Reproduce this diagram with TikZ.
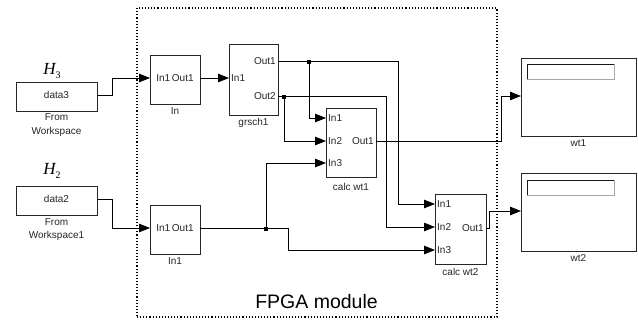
\documentclass[tikz,border=0pt]{standalone}
\usepackage{fontspec}
\setmainfont{Liberation Sans}
\newfontfamily\seriffont{Liberation Serif}
\usetikzlibrary{arrows.meta}
\tikzset{
  blk/.style={draw=black!85, line width=0.9pt, inner sep=0pt, outer sep=0pt, fill=white},
  lbl/.style={font=\fontsize{10}{10}\selectfont, inner sep=0pt, text=black!85},
  wire/.style={line width=0.75pt, black},
  arr/.style={wire, -{Triangle[length=11pt,width=8.5pt]}},
  junc/.style={fill=black, minimum size=3.4pt, inner sep=0pt, outer sep=0pt},
  hlbl/.style={font=\seriffont\fontsize{17}{17}\selectfont\itshape, inner sep=0pt}
}
\begin{document}
\begin{tikzpicture}[x=1pt,y=-1pt]
\useasboundingbox (0,0) rectangle (638,324);
% FPGA module border
\node[draw, dotted, line width=1.1pt, minimum width=360pt, minimum height=309pt, inner sep=0pt] (fpga) at (317,162.5) {};
\node[font=\fontsize{19.5}{20}\selectfont, inner sep=0pt] (fpgat) at (316.5,302) {FPGA module};

% From workspace blocks
\node[blk, minimum width=81pt, minimum height=29pt] (d3) at (56.5,96.5) {};
\node[lbl] (d3t) at (56.5,95) {data3};
\node[hlbl] (h3) at (52,71) {H\raisebox{-4pt}{\upshape\fontsize{10}{10}\selectfont 3}};
\node[lbl, align=center] (d3l) at (56.5,125) {From\\[3.5pt]Workspace};
\node[blk, minimum width=81pt, minimum height=29pt] (d2) at (56.5,200.5) {};
\node[lbl] (d2t) at (56.5,199) {data2};
\node[hlbl] (h2) at (52,171) {H\raisebox{-4pt}{\upshape\fontsize{10}{10}\selectfont 2}};
\node[lbl, align=center] (d2l) at (56.5,229.5) {From\\[3.5pt]Workspace1};

% In blocks
\node[blk, minimum width=50pt, minimum height=49pt] (inb) at (175,79.5) {};
\node[lbl] (inbt) at (175,78) {In1\,Out1};
\node[lbl] (inbl) at (175,111) {In};
\node[blk, minimum width=50pt, minimum height=49pt] (in1b) at (175,229.5) {};
\node[lbl] (in1bt) at (175,228) {In1\,Out1};
\node[lbl] (in1bl) at (175,261) {In1};

% grsch1
\node[blk, minimum width=49pt, minimum height=71pt] (gr) at (253.5,79.5) {};
\node[lbl, anchor=west] (grin) at (231,78) {In1};
\node[lbl, anchor=east] (grout1) at (276,61) {Out1};
\node[lbl, anchor=east] (grout2) at (276,96) {Out2};
\node[lbl] (grl) at (253.5,123) {grsch1};

% calc wt1
\node[blk, minimum width=50pt, minimum height=69pt] (c1) at (351,142.5) {};
\node[lbl, anchor=west] (c1i1) at (328,118) {In1};
\node[lbl, anchor=west] (c1i2) at (328,141) {In2};
\node[lbl, anchor=west] (c1i3) at (328,163) {In3};
\node[lbl, anchor=east] (c1o) at (374,141) {Out1};
\node[lbl] (c1l) at (351,187) {calc wt1};

% calc wt2
\node[blk, minimum width=51pt, minimum height=70pt] (c2) at (460.5,229) {};
\node[lbl, anchor=west] (c2i1) at (437,204) {In1};
\node[lbl, anchor=west] (c2i2) at (437,227) {In2};
\node[lbl, anchor=west] (c2i3) at (437,250) {In3};
\node[lbl, anchor=east] (c2o) at (484,228) {Out1};
\node[lbl] (c2l) at (460.5,272) {calc wt2};

% scopes
\node[blk, minimum width=115pt, minimum height=78pt] (w1) at (578.5,97) {};
\draw[black!35, line width=0.8pt] (527,79) -- (614,79) -- (614,64);
\draw[black!90, line width=0.9pt] (527,79) -- (527,64) -- (614,64);
\node[lbl] (w1l) at (578.5,143) {wt1};
\node[blk, minimum width=115pt, minimum height=78pt] (w2) at (578.5,212) {};
\draw[black!35, line width=0.8pt] (527,195) -- (614,195) -- (614,180);
\draw[black!90, line width=0.9pt] (527,195) -- (527,180) -- (614,180);
\node[lbl] (w2l) at (578.5,258) {wt2};

% port coordinates
\coordinate (d3o) at (97,95);
\coordinate (d2o) at (97,199);
\coordinate (inbi) at (150,78);
\coordinate (inbo) at (200,78);
\coordinate (in1bi) at (150,228);
\coordinate (in1bo) at (200,228);
\coordinate (gri) at (229,78);
\coordinate (gro1) at (278,61);
\coordinate (gro2) at (278,96);
\coordinate (c1p1) at (326,118);
\coordinate (c1p2) at (326,141);
\coordinate (c1p3) at (326,163);
\coordinate (c1po) at (376,141);
\coordinate (c2p1) at (435,204);
\coordinate (c2p2) at (435,227);
\coordinate (c2p3) at (435,250);
\coordinate (c2po) at (486,228);
\coordinate (w1i) at (521,96);
\coordinate (w2i) at (521,211);

% junctions
\node[junc] (j1) at (309,62) {};
\node[junc] (j2) at (284,97) {};
\node[junc] (j3) at (266,229) {};

% wires
\draw[arr] (d3o) -- (112,95) -- (112,78) -- (inbi);
\draw[arr] (d2o) -- (112,199) -- (112,228) -- (in1bi);
\draw[arr] (inbo) -- (gri);
\draw[arr] (gro1) -- (398,61) -- (398,204) -- (c2p1);
\draw[arr] (j1.center |- gro1) -- (309,118) -- (c1p1);
\draw[arr] (gro2) -- (386,96) -- (386,227) -- (c2p2);
\draw[arr] (j2.center |- gro2) -- (284,141) -- (c1p2);
\draw[arr] (in1bo) -- (288,228) -- (288,250) -- (c2p3);
\draw[arr] (j3.center |- in1bo) -- (266,163) -- (c1p3);
\draw[arr] (c1po) -- (501,141) -- (501,96) -- (w1i);
\draw[arr] (c2po) -- (489,228) -- (489,211) -- (w2i);
\end{tikzpicture}
\end{document}
